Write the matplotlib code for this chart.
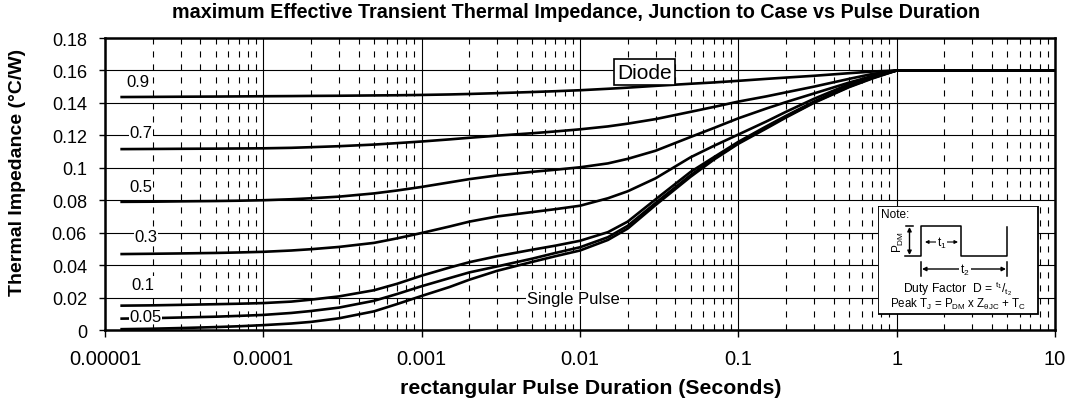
import matplotlib
matplotlib.use("Agg")
import matplotlib.pyplot as plt
from matplotlib.ticker import FixedLocator, NullFormatter, LogLocator
from matplotlib.patches import Rectangle

plt.rcParams['font.family'] = ['Liberation Sans', 'DejaVu Sans']
plt.rcParams['mathtext.fontset'] = 'custom'
plt.rcParams['mathtext.rm'] = 'Liberation Sans'
plt.rcParams['mathtext.it'] = 'Liberation Sans'

# ---------------- data ----------------
pulse_duration = [1.25e-5, 2e-5, 3e-5, 5e-5, 7e-5, 1e-4, 1.5e-4, 2e-4, 3e-4, 5e-4,
                  7e-4, 1e-3, 1.5e-3, 2e-3, 3e-3, 5e-3, 7e-3, 1e-2, 1.5e-2, 2e-2,
                  3e-2, 5e-2, 7e-2, 1e-1, 1.5e-1, 2e-1, 3e-1, 5e-1, 7e-1, 1, 10]
z_d09 = [0.1436, 0.1437, 0.1438, 0.1439, 0.1440, 0.1441, 0.1442, 0.1443, 0.1444, 0.1446,
         0.1447, 0.1449, 0.1452, 0.1455, 0.1460, 0.1467, 0.1472, 0.1478, 0.1487, 0.1494,
         0.1505, 0.1518, 0.1526, 0.1536, 0.1548, 0.1556, 0.1567, 0.1583, 0.1593, 0.160, 0.160]
z_d07 = [0.1115, 0.1116, 0.1117, 0.1118, 0.1119, 0.1120, 0.1123, 0.1127, 0.1133, 0.1143,
         0.1152, 0.1162, 0.1175, 0.1185, 0.1198, 0.1213, 0.1224, 0.1237, 0.1255, 0.1272,
         0.1300, 0.1345, 0.1375, 0.1408, 0.1440, 0.1465, 0.1500, 0.1548, 0.1578, 0.160, 0.160]
z_d05 = [0.0790, 0.0791, 0.0793, 0.0795, 0.0797, 0.0800, 0.0806, 0.0812, 0.0822, 0.0842,
         0.0860, 0.0882, 0.0910, 0.0930, 0.0953, 0.0975, 0.0988, 0.1003, 0.1027, 0.1055,
         0.1105, 0.1190, 0.1245, 0.1305, 0.1365, 0.1405, 0.1458, 0.1525, 0.1565, 0.160, 0.160]
z_d03 = [0.0468, 0.0470, 0.0472, 0.0475, 0.0478, 0.0482, 0.0490, 0.0498, 0.0512, 0.0537,
         0.0565, 0.0598, 0.0638, 0.0668, 0.0700, 0.0727, 0.0745, 0.0766, 0.0812, 0.0855,
         0.0935, 0.1065, 0.1135, 0.1205, 0.1285, 0.1345, 0.1425, 0.1515, 0.1565, 0.160, 0.160]
z_d01 = [0.0150, 0.0152, 0.0155, 0.0159, 0.0162, 0.0166, 0.0175, 0.0187, 0.0207, 0.0245,
         0.0285, 0.0335, 0.0385, 0.0418, 0.0455, 0.0495, 0.0520, 0.0550, 0.0603, 0.0668,
         0.0805, 0.0975, 0.1065, 0.1160, 0.1255, 0.1320, 0.1408, 0.1505, 0.1557, 0.160, 0.160]
z_d005 = [0.0070, 0.0073, 0.0077, 0.0082, 0.0087, 0.0093, 0.0105, 0.0117, 0.0138, 0.0180,
          0.0222, 0.0270, 0.0320, 0.0355, 0.0392, 0.0440, 0.0475, 0.0510, 0.0572, 0.0642,
          0.0783, 0.0955, 0.1055, 0.1153, 0.1248, 0.1315, 0.1403, 0.1500, 0.1553, 0.160, 0.160]
z_single = [0.0005, 0.0008, 0.0012, 0.0018, 0.0023, 0.0030, 0.0040, 0.0050, 0.0072, 0.0115,
            0.0160, 0.0210, 0.0265, 0.0310, 0.0365, 0.0420, 0.0455, 0.0490, 0.0555, 0.0625,
            0.0770, 0.0945, 0.1050, 0.1148, 0.1242, 0.1310, 0.1400, 0.1497, 0.1550, 0.160, 0.160]

series = [z_d09, z_d07, z_d05, z_d03, z_d01, z_d005, z_single]
duty_labels = ["0.9", "0.7", "0.5", "0.3", "0.1", "0.05"]
label_x = [1.62e-5, 1.69e-5, 1.69e-5, 1.82e-5, 1.74e-5, 1.80e-5]
label_y = [0.153, 0.1215, 0.0886, 0.0578, 0.0283, 0.0083]

x_ticks = [1e-5, 1e-4, 1e-3, 1e-2, 1e-1, 1, 10]
x_ticklabels = ["0.00001", "0.0001", "0.001", "0.01", "0.1", "1", "10"]
y_ticks = [0, 0.02, 0.04, 0.06, 0.08, 0.10, 0.12, 0.14, 0.16, 0.18]
y_ticklabels = ["0", "0.02", "0.04", "0.06", "0.08", "0.1", "0.12", "0.14", "0.16", "0.18"]

W, H = 1070, 410
fig = plt.figure(figsize=(W / 100, H / 100), dpi=100)
ax = fig.add_axes([105 / W, 1 - 331 / H, 950 / W, 292 / H])

for s in series:
    ax.plot(pulse_duration, s, color='black', lw=1.9, zorder=3,
            solid_capstyle='butt', solid_joinstyle='round')

ax.set_xscale('log')
ax.set_xlim(1e-5, 10)
ax.set_ylim(0, 0.18)
ax.xaxis.set_major_locator(FixedLocator(x_ticks))
ax.set_xticklabels(x_ticklabels)
ax.xaxis.set_minor_locator(LogLocator(base=10, subs=[2, 3, 4, 5, 6, 7, 8, 9], numticks=20))
ax.xaxis.set_minor_formatter(NullFormatter())
ax.set_yticks(y_ticks)
ax.set_yticklabels(y_ticklabels)

ax.grid(True, which='major', axis='both', color='black', lw=0.8, zorder=1)
ax.xaxis.grid(True, which='minor', color='black', lw=0.8, linestyle=(0, (5.5, 6.2)))
ax.set_axisbelow(True)

ax.tick_params(axis='x', which='major', direction='out', length=5, width=1, pad=9, labelsize=14.5)
ax.tick_params(axis='x', which='minor', length=0)
ax.tick_params(axis='y', which='major', direction='out', length=4, width=1, pad=9, labelsize=13)
for sp in ax.spines.values():
    sp.set_linewidth(1.8)
    sp.set_zorder(6)

for t, xx, yy in zip(duty_labels, label_x, label_y):
    ax.text(xx, yy, t, fontsize=12, ha='center', va='center', zorder=5,
            bbox=dict(facecolor='white', edgecolor='none', pad=0.3))

ax.text(0.00903, 0.0197, "Single Pulse", fontsize=12, ha='center', va='center', zorder=5,
        bbox=dict(facecolor='white', edgecolor='none', pad=0.3))
ax.text(0.0256, 0.1588, "Diode", fontsize=15, ha='center', va='center', zorder=5,
        bbox=dict(facecolor='white', edgecolor='black', lw=1.2, pad=2.5))

fig.text(576 / W, 1 - 13 / H, "maximum Effective Transient Thermal Impedance, Junction to Case vs Pulse Duration",
         fontsize=14.2, fontweight='bold', ha='center', va='center')
fig.text(591 / W, 1 - 389 / H, "rectangular Pulse Duration (Seconds)",
         fontsize=15.3, fontweight='bold', ha='center', va='center')
fig.text(18 / W, 1 - 172 / H, "Thermal Impedance (°C/W)",
         fontsize=14, fontweight='bold', ha='center', va='center', rotation=90)

# ---------------- note box (pixel coordinates) ----------------
bx0, by0, bx1, by1 = 878, 207, 1039, 316
nax = fig.add_axes([bx0 / W, 1 - by1 / H, (bx1 - bx0) / W, (by1 - by0) / H], zorder=10)
nax.set_xlim(bx0, bx1)
nax.set_ylim(by1, by0)
nax.axis('off')
nax.add_patch(Rectangle((bx0 + 0.5, by0 + 0.5), bx1 - bx0 - 1, by1 - by0 - 1,
                        facecolor='white', edgecolor='black', lw=1.3))
nax.text(881, 215, "Note:", fontsize=8.5, ha='left', va='center')
lw = 1.1
nax.plot([905, 921, 921, 961, 961, 1007, 1007], [257, 257, 227, 227, 257, 257, 228], color='black', lw=lw)
nax.plot([906, 913], [227, 227], color='black', lw=lw)
nax.annotate("", xy=(909.5, 228), xytext=(909.5, 256),
             arrowprops=dict(arrowstyle='<|-|>', color='black', lw=1.0, mutation_scale=6, shrinkA=0, shrinkB=0))
nax.text(898, 242, r"P$_{\mathrm{DM}}$", fontsize=8.5, rotation=90, ha='center', va='center')
nax.annotate("", xy=(925, 243), xytext=(958, 243),
             arrowprops=dict(arrowstyle='<|-|>', color='black', lw=0.8, mutation_scale=5, shrinkA=0, shrinkB=0))
nax.text(941.5, 243, r"t$_{1}$", fontsize=8.5, ha='center', va='center',
         bbox=dict(facecolor='white', edgecolor='none', pad=0.5))
nax.plot([921, 921], [263, 277], color='black', lw=lw)
nax.plot([1007, 1007], [263, 277], color='black', lw=lw)
nax.annotate("", xy=(922, 270), xytext=(1006, 270),
             arrowprops=dict(arrowstyle='<|-|>', color='black', lw=1.0, mutation_scale=6, shrinkA=0, shrinkB=0))
nax.text(965, 270, r"t$_{2}$", fontsize=8.5, ha='center', va='center',
         bbox=dict(facecolor='white', edgecolor='none', pad=0.5))
nax.text(958, 289, r"Duty Factor  D = $^{\mathrm{t}_1}$/$_{\mathrm{t}_2}$", fontsize=8.7, ha='center', va='center')
nax.text(958, 304, r"Peak T$_{\mathrm{J}}$ = P$_{\mathrm{DM}}$ x Z$_{\mathrm{\theta JC}}$ + T$_{\mathrm{C}}$",
         fontsize=8.3, ha='center', va='center')

fig.savefig("out.png", dpi=100)
